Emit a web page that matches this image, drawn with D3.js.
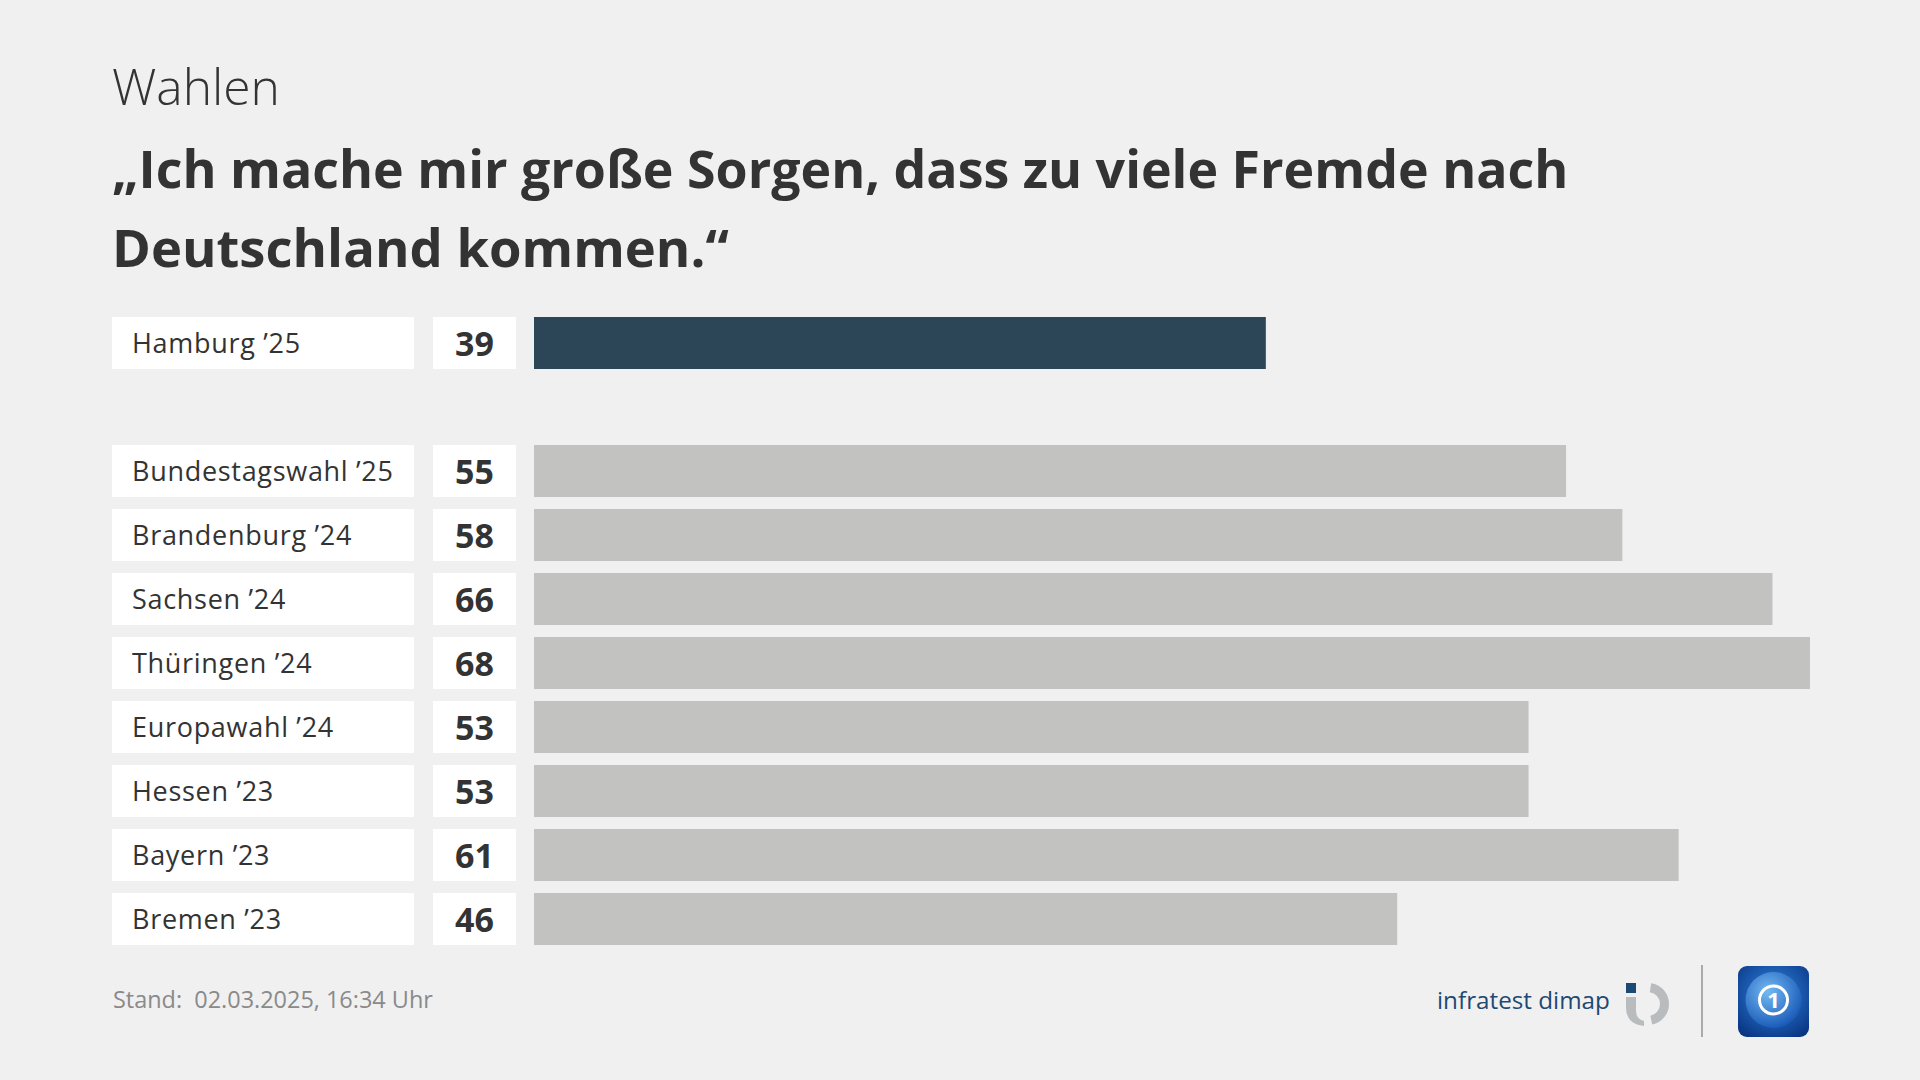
<!DOCTYPE html>
<html><head><meta charset="utf-8">
<script src="https://cdn.jsdelivr.net/npm/d3@7"></script>
<style>
html,body{margin:0;padding:0;background:#f0f0f0;}
svg{display:block;}
text{font-family:"Open Sans",sans-serif;}
</style></head>
<body>
<svg id="chart" width="1920" height="1080"></svg>
<script>
const kicker = "Wahlen";
const titleLines = ["„Ich mache mir große Sorgen, dass zu viele Fremde nach", "Deutschland kommen.“"];
const categories = ["Hamburg ’25", "Bundestagswahl ’25", "Brandenburg ’24", "Sachsen ’24", "Thüringen ’24", "Europawahl ’24", "Hessen ’23", "Bayern ’23", "Bremen ’23"];
const values = [39, 55, 58, 66, 68, 53, 53, 61, 46];
const slots = ["Hamburg ’25", "_gap", "Bundestagswahl ’25", "Brandenburg ’24", "Sachsen ’24", "Thüringen ’24", "Europawahl ’24", "Hessen ’23", "Bayern ’23", "Bremen ’23"];
const highlight = "Hamburg ’25";
const footnote = "Stand:\u00a0 02.03.2025, 16:34 Uhr";
const sourceLabel = "infratest dimap";

const svg = d3.select("#chart");
svg.append("rect").attr("width",1920).attr("height",1080).attr("fill","#f0f0f0");

function fitWidth(sel, target){
  const w = sel.node().getComputedTextLength();
  const fs = parseFloat(sel.attr("font-size"));
  sel.attr("font-size", fs * target / w);
}

// kicker
const k = svg.append("text").attr("x",112).attr("y",105).attr("font-size",46)
  .attr("font-weight",300).attr("fill","#333").text(kicker);
fitWidth(k, 168);

// title
const tw = [1457, 617];
titleLines.forEach((t,i)=>{
  const s = svg.append("text").attr("x",112).attr("y",188 + i*79).attr("font-size",46)
    .attr("font-weight",700).attr("fill","#333").text(t);
  fitWidth(s, tw[i]);
});

const data = categories.map((c,i)=>({cat:c, val:values[i]}));

const y = d3.scaleBand().domain(slots).range([317, 945]).paddingInner(12/64).paddingOuter(0);
const x = d3.scaleLinear().domain([0, 68]).range([534, 1810]);

const rows = svg.append("g").selectAll("g").data(data).join("g")
  .attr("transform", d=>`translate(0,${y(d.cat)})`);
const bh = y.bandwidth();

rows.append("rect").attr("x",112).attr("width",302).attr("height",bh).attr("fill","#fff");
rows.append("rect").attr("x",433).attr("width",83).attr("height",bh).attr("fill","#fff");
rows.append("rect").attr("x",x(0)).attr("width",d=>x(d.val)-x(0)).attr("height",bh)
  .attr("fill", d=>d.cat===highlight ? "#2c4557" : "#c2c2c1");
rows.append("text").attr("x",132).attr("y",bh/2+10).attr("font-size",27)
  .attr("letter-spacing",0.7).attr("fill","#333").text(d=>d.cat);
rows.append("text").attr("x",474.5).attr("y",bh/2+12.5).attr("font-size",34)
  .attr("font-weight",700).attr("text-anchor","middle").attr("fill","#333").text(d=>d.val);

// footer
const f = svg.append("text").attr("x",113).attr("y",1008).attr("font-size",23)
  .attr("fill","#8a8a8a").text(footnote);
fitWidth(f, 320);

const src = svg.append("text").attr("x",1437).attr("y",1009).attr("font-size",26)
  .attr("fill","#1c4a74").text(sourceLabel);
fitWidth(src, 173);

// infratest dimap logo mark
const lg = svg.append("g");
lg.append("rect").attr("x",1626).attr("y",983).attr("width",10).attr("height",10).attr("fill","#1c4a74");
lg.append("path").attr("fill","#b9bcbf")
  .attr("d", d3.arc()({innerRadius:12, outerRadius:21, startAngle:0.15, endAngle:Math.PI-0.2}))
  .attr("transform","translate(1648,1004)");
lg.append("path").attr("fill","#b9bcbf")
  .attr("d","M1626,997 h10 v14 q0,8 8,10 v5 q-18,-2 -18,-18 z");

// divider
svg.append("line").attr("x1",1702).attr("x2",1702).attr("y1",965).attr("y2",1037)
  .attr("stroke","#aaa").attr("stroke-width",2);

// tagesschau logo
const defs = svg.append("defs");
const g1 = defs.append("radialGradient").attr("id","bg").attr("cx","50%").attr("cy","40%").attr("r","70%");
g1.append("stop").attr("offset","0%").attr("stop-color","#2f86e0");
g1.append("stop").attr("offset","100%").attr("stop-color","#0a3584");
const g2 = defs.append("radialGradient").attr("id","gl").attr("cx","40%").attr("cy","35%").attr("r","70%");
g2.append("stop").attr("offset","0%").attr("stop-color","#7cc0f5");
g2.append("stop").attr("offset","100%").attr("stop-color","#1657b8");
const ts = svg.append("g");
ts.append("rect").attr("x",1738).attr("y",966).attr("width",71).attr("height",71).attr("rx",9).attr("fill","url(#bg)");
ts.append("circle").attr("cx",1773.5).attr("cy",1000).attr("r",28).attr("fill","url(#gl)").attr("opacity",0.9);
ts.append("circle").attr("cx",1773.5).attr("cy",1000).attr("r",14).attr("fill","none").attr("stroke","#fff").attr("stroke-width",3);
ts.append("text").attr("x",1773.5).attr("y",1008).attr("text-anchor","middle").attr("font-size",22)
  .attr("font-weight",700).attr("fill","#fff").text("1");
</script>
</body></html>
